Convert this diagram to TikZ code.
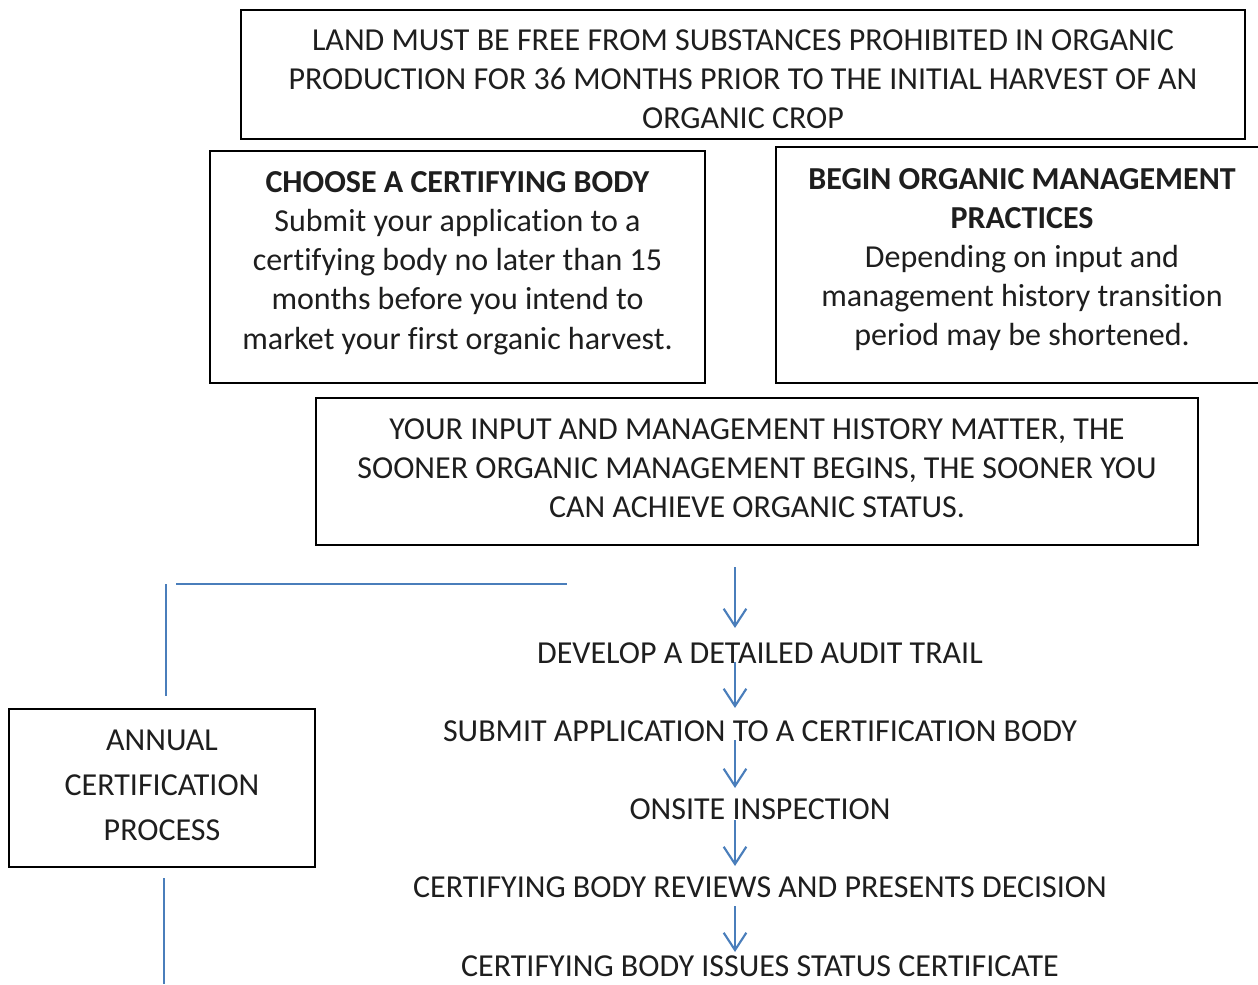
\documentclass[tikz,border=0pt]{standalone}
\usepackage{fontspec}
\setmainfont[Ligatures=NoCommon]{Carlito}
\usetikzlibrary{arrows.meta}
\definecolor{lineblue}{RGB}{74,126,187}
\definecolor{txt}{RGB}{30,30,30}
\tikzset{
  frame/.style={draw=black, line width=1.5pt, inner sep=0pt},
  boxtext/.style={align=center, inner sep=0pt, text=txt, font=\fontsize{24}{29.4}\selectfont},
  steptext/.style={align=center, inner sep=0pt, text=txt, font=\fontsize{24}{29.4}\selectfont},
  blueline/.style={draw=lineblue, line width=1.6pt},
  arr/.style={draw=lineblue, line width=1.6pt, -{Straight Barb[length=13pt,width=17pt,line width=1.6pt]}}
}
\begin{document}
\begin{tikzpicture}[x=0.75pt,y=-0.75pt]
\useasboundingbox (0,0) rectangle (1258,985);
% frames
\node[frame, minimum width=753pt, minimum height=96.75pt] (top) at (743,74.5) {};
\node[frame, minimum width=371.25pt, minimum height=174pt] (cert) at (457.5,267) {};
\node[frame, minimum width=365.25pt, minimum height=177pt] (begin) at (1019,265) {};
\node[frame, minimum width=661.5pt, minimum height=110.25pt] (hist) at (757,471.5) {};
\node[frame, minimum width=229.5pt, minimum height=118.5pt] (annual) at (162,788) {};
% texts
\node[boxtext] (topt) at (743,79.5)
  {LAND MUST BE FREE FROM SUBSTANCES PROHIBITED IN ORGANIC\\PRODUCTION FOR 36 MONTHS PRIOR TO THE INITIAL HARVEST OF AN\\ORGANIC CROP};
\node[boxtext] (certt) at (457.5,263)
  {\textbf{CHOOSE A CERTIFYING BODY}\\Submit your application to a\\certifying body no later than 15\\months before you intend to\\market your first organic harvest.};
\node[boxtext] (begint) at (1022,259.5)
  {\textbf{BEGIN ORGANIC MANAGEMENT}\\\textbf{PRACTICES}\\Depending on input and\\management history transition\\period may be shortened.};
\node[boxtext] (histt) at (757,468.5)
  {YOUR INPUT AND MANAGEMENT HISTORY MATTER, THE\\SOONER ORGANIC MANAGEMENT BEGINS, THE SOONER YOU\\CAN ACHIEVE ORGANIC STATUS.};
\node[boxtext, font=\fontsize{24}{33.75}\selectfont] (annualt) at (162,785)
  {ANNUAL\\CERTIFICATION\\PROCESS};
\node[steptext] (s1) at (760,653) {DEVELOP A DETAILED AUDIT TRAIL};
\node[steptext] (s2) at (760,731) {SUBMIT APPLICATION TO A CERTIFICATION BODY};
\node[steptext] (s3) at (760,809) {ONSITE INSPECTION};
\node[steptext] (s4) at (760,887) {CERTIFYING BODY REVIEWS AND PRESENTS DECISION};
\node[steptext] (s5) at (760,966) {CERTIFYING BODY ISSUES STATUS CERTIFICATE};
% arrows
\coordinate (a0) at (735,567);
\draw[arr] (a0) -- (735,628);
\draw[arr] ([xshift=-18.75pt]s1.center) ++(0,9) -- ++(0,46);
\draw[arr] ([xshift=-18.75pt]s2.center) ++(0,9) -- ++(0,48);
\draw[arr] ([xshift=-18.75pt]s3.center) ++(0,11) -- ++(0,46);
\draw[arr] ([xshift=-18.75pt]s4.center) ++(0,19) -- ++(0,46);
% loop lines
\coordinate (h1) at (176,584);
\coordinate (h2) at (567,584);
\draw[blueline] (h1) -- (h2);
\draw[blueline] (166,584) -- (166,696);
\draw[blueline] ([xshift=1.5pt]annual.south |- 0,878) -- ([xshift=1.5pt]annual.south |- 0,984);
\end{tikzpicture}
\end{document}
